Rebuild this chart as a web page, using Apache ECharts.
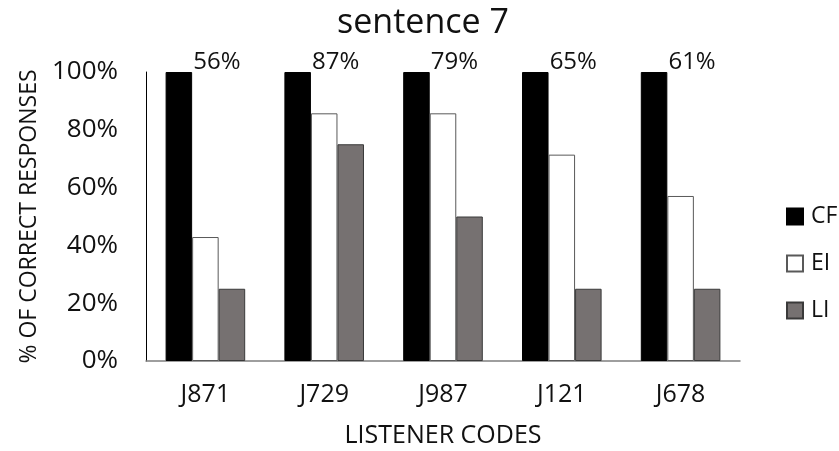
<!DOCTYPE html>
<html>
<head>
<meta charset="utf-8">
<script src="https://cdn.jsdelivr.net/npm/echarts@6/dist/echarts.min.js"></script>
<style>html,body{margin:0;padding:0;background:#fff}#c{width:839px;height:451px}</style>
</head>
<body>
<div id="c"></div>
<script>
var categories = ["J871", "J729", "J987", "J121", "J678"];
var cfValues = [100, 100, 100, 100, 100];
var eiValues = [42.9, 85.7, 85.7, 71.4, 57.1];
var liValues = [25, 75, 50, 25, 25];
var avgLabels = ["56%", "87%", "79%", "65%", "61%"];
var yTicks = [0, 20, 40, 60, 80, 100];

var FONT = "Open Sans";
var TXT = "#111";
var chart = echarts.init(document.getElementById('c'), null, {renderer: 'canvas'});
chart.setOption({
  animation: false,
  backgroundColor: '#fff',
  textStyle: {fontFamily: FONT},
  title: {
    text: 'sentence 7', left: 418, top: 1, textAlign: 'center',
    textStyle: {fontFamily: FONT, fontSize: 34, fontWeight: 'normal', color: TXT}
  },
  legend: {
    orient: 'vertical', left: 781, top: 200, itemWidth: 16, itemHeight: 16, itemGap: 24,
    icon: 'rect',
    textStyle: {fontFamily: FONT, fontSize: 23, color: TXT, padding: [0, 0, 0, 3]},
    data: ['CF', 'EI', 'LI']
  },
  grid: {left: 146, right: 99, top: 72, bottom: 90, containLabel: false, outerBoundsMode: 'none'},
  xAxis: {
    type: 'category', data: categories,
    name: 'LISTENER CODES', nameLocation: 'middle', nameGap: 62,
    nameTextStyle: {fontFamily: FONT, fontSize: 25, color: TXT},
    axisLine: {show: true, lineStyle: {color: '#7f7f7f', width: 1.5}},
    axisTick: {show: false},
    axisLabel: {fontFamily: FONT, fontSize: 25, color: TXT, margin: 21}
  },
  yAxis: {
    type: 'value', min: yTicks[0], max: yTicks[yTicks.length - 1], interval: 20,
    name: '% OF CORRECT RESPONSES', nameLocation: 'middle', nameGap: 103,
    nameTextStyle: {fontFamily: FONT, fontSize: 23, color: TXT},
    axisLine: {show: true, lineStyle: {color: '#000', width: 1}},
    axisTick: {show: false},
    splitLine: {show: false},
    axisLabel: {fontFamily: FONT, fontSize: 26, color: TXT, margin: 28, formatter: '{value}%'}
  },
  series: [
    {
      name: 'CF', type: 'bar', data: cfValues, barGap: '0%', barCategoryGap: '33%',
      itemStyle: {color: '#000', borderColor: '#000', borderWidth: 1},
      label: {
        show: true, position: 'top', distance: -2, offset: [38, 0],
        fontFamily: FONT, fontSize: 24, color: TXT,
        formatter: function (p) { return avgLabels[p.dataIndex]; }
      }
    },
    {
      name: 'EI', type: 'bar', data: eiValues,
      itemStyle: {color: '#fff', borderColor: '#595959', borderWidth: 1}
    },
    {
      name: 'LI', type: 'bar', data: liValues,
      itemStyle: {color: '#767171', borderColor: '#3a3a3a', borderWidth: 1}
    }
  ]
});
</script>
</body>
</html>
